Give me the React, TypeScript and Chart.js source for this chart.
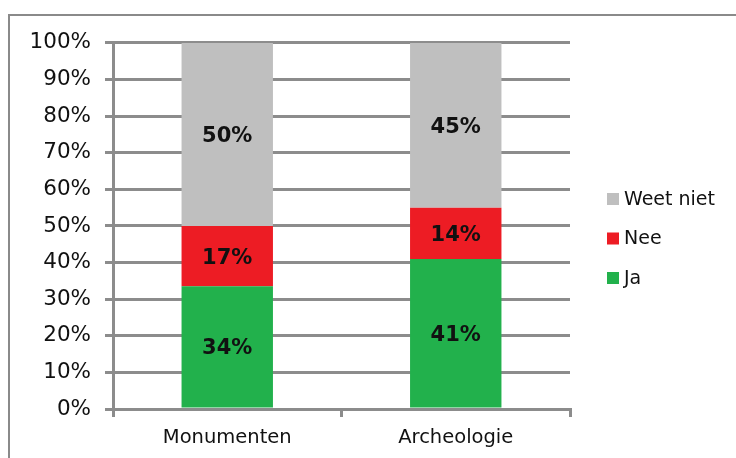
import React, { useEffect, useRef } from "react";
import { Chart, registerables } from "chart.js";

Chart.register(...registerables);

const categories = ["Monumenten", "Archeologie"];
const jaValues = [33.5, 41];
const neeValues = [16.5, 14];
const weetNietValues = [50, 45];
const yTicks = [0, 10, 20, 30, 40, 50, 60, 70, 80, 90, 100];

const FONT = "'DejaVu Sans', Verdana, sans-serif";
const GRID = "#8c8c8c";

const dataLabelPlugin = {
  id: "dataLabels",
  afterDatasetsDraw(chart: any) {
    const ctx = chart.ctx;
    const area = chart.chartArea;
    ctx.save();
    ctx.font = `bold 21px ${FONT}`;
    ctx.fillStyle = "#111";
    ctx.textAlign = "center";
    ctx.textBaseline = "middle";
    chart.data.datasets.forEach((ds: any, i: number) => {
      const meta = chart.getDatasetMeta(i);
      meta.data.forEach((el: any, j: number) => {
        const top = Math.max(el.y, area.top);
        const bottom = Math.min(el.base, area.bottom);
        ctx.fillText(`${Math.round(ds.data[j])}%`, el.x, (top + bottom) / 2 + 2);
      });
    });
    ctx.restore();
  },
};

const legendPlugin = {
  id: "customLegend",
  afterDraw(chart: any) {
    const ctx = chart.ctx;
    const items = chart.data.datasets.map((ds: any) => ({ label: ds.label, color: ds.backgroundColor })).reverse();
    ctx.save();
    ctx.font = `19px ${FONT}`;
    ctx.textBaseline = "middle";
    ctx.textAlign = "left";
    const x = chart.chartArea.right + 37;
    const y0 = 183;
    const step = 39.5;
    items.forEach((it: any, k: number) => {
      const y = y0 + k * step;
      ctx.fillStyle = it.color;
      ctx.fillRect(x, y - 6, 12, 12);
      ctx.fillStyle = "#111";
      ctx.fillText(it.label, x + 17, y + 1);
    });
    ctx.restore();
  },
};

export default function App() {
  const ref = useRef<HTMLCanvasElement>(null);
  useEffect(() => {
    if (!ref.current) return;
    const chart = new Chart(ref.current, {
      type: "bar",
      data: {
        labels: categories,
        datasets: [
          { label: "Ja", data: jaValues, backgroundColor: "#22b14c" },
          { label: "Nee", data: neeValues, backgroundColor: "#ed1c24" },
          { label: "Weet niet", data: weetNietValues, backgroundColor: "#bfbfbf" },
        ],
      },
      options: {
        animation: false,
        responsive: false,
        devicePixelRatio: 1,
        layout: { padding: { top: 26, right: 166, left: 0, bottom: 0 } },
        datasets: { bar: { categoryPercentage: 1, barPercentage: 0.4 } },
        plugins: { legend: { display: false }, tooltip: { enabled: false } },
        scales: {
          x: {
            stacked: true,
            offset: true,
            grid: { display: true, drawOnChartArea: false, offset: true, color: GRID, lineWidth: 3, tickLength: 8 },
            border: { display: true, color: GRID, width: 3 },
            ticks: { color: "#111", font: { family: FONT, size: 19.5 }, padding: 9 },
            afterFit: (s: any) => { s.height = 49; },
          },
          y: {
            stacked: true,
            min: 0,
            max: 100,
            afterBuildTicks: (s: any) => { s.ticks = yTicks.map((v) => ({ value: v })); },
            grid: { color: GRID, lineWidth: 3, tickLength: 8 },
            border: { display: true, color: GRID, width: 3 },
            ticks: { color: "#111", font: { family: FONT, size: 21.5 }, padding: 14, callback: (v: any) => `${v}%` },
            afterFit: (s: any) => { s.width = 103; },
          },
        },
      },
      plugins: [dataLabelPlugin, legendPlugin],
    });
    return () => chart.destroy();
  }, []);
  return (
    <div
      style={{
        position: "absolute",
        left: 8,
        top: 14,
        width: 726,
        height: 442,
        borderTop: "2px solid #8a8a8a",
        borderLeft: "2px solid #8a8a8a",
        background: "#fff",
      }}
    >
      <canvas ref={ref} width={726} height={442} style={{ display: "block", width: 726, height: 442 }} />
    </div>
  );
}
